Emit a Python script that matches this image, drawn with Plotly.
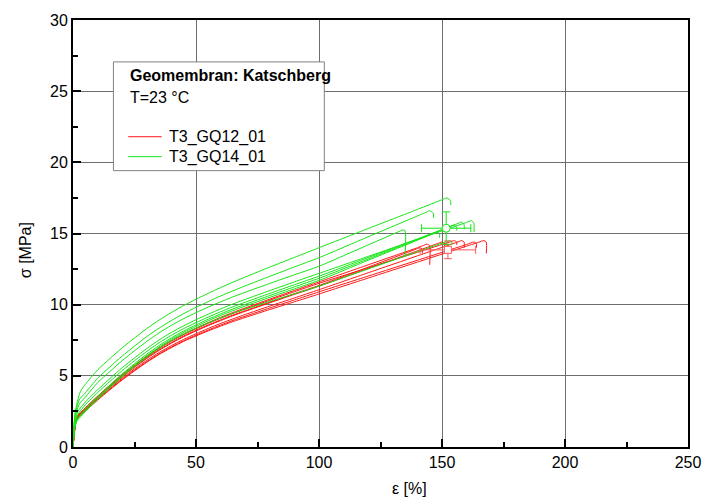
import plotly.graph_objects as go

# ---- tensile test data: strain eps [%], stress sigma [MPa] ----
# Series T3_GQ14_01 (green)
g1_eps = [0, 0.8, 3, 5, 10, 15, 20, 25, 30, 35, 40, 45, 50, 55, 60, 65, 70, 80, 90, 100, 120, 140, 150, 152, 153.5, 153.5]
g1_sig = [0, 2.4, 3.9, 4.4, 5.42, 6.21, 6.97, 7.66, 8.32, 8.92, 9.45, 9.94, 10.38, 10.8, 11.2, 11.58, 11.94, 12.64, 13.32, 14.0, 15.35, 16.69, 17.37, 17.5, 17.3, 17.0]
g2_eps = [0, 0.8, 2.5, 5, 10, 15, 20, 25, 30, 35, 40, 45, 50, 55, 60, 65, 70, 80, 90, 100, 120, 140, 143, 145, 146.5, 146.5]
g2_sig = [0, 2.2, 3.3, 3.8, 4.83, 5.63, 6.39, 7.09, 7.76, 8.35, 8.89, 9.37, 9.81, 10.22, 10.61, 10.97, 11.32, 11.99, 12.65, 13.3, 14.77, 16.23, 16.45, 16.6, 16.4, 16.1]
g3_eps = [0, 0.8, 2.5, 5, 10, 15, 20, 25, 30, 35, 40, 45, 50, 55, 60, 65, 70, 80, 90, 100, 120, 132, 134, 135, 135]
g3_sig = [0, 2.0, 3.0, 3.5, 4.52, 5.31, 6.07, 6.76, 7.42, 8.02, 8.55, 9.02, 9.44, 9.83, 10.2, 10.55, 10.87, 11.49, 12.1, 12.7, 14.2, 15.1, 15.25, 15.2, 13.4]
g4_eps = [0, 0.8, 2, 5, 10, 15, 20, 25, 30, 35, 40, 45, 50, 55, 60, 65, 70, 80, 90, 100, 120, 140, 160, 162, 163, 163]
g4_sig = [0, 1.8, 2.5, 3.16, 4.02, 4.81, 5.57, 6.26, 6.92, 7.52, 8.05, 8.52, 8.94, 9.33, 9.7, 10.05, 10.37, 10.99, 11.6, 12.2, 13.39, 14.59, 15.78, 15.9, 15.7, 15.1]
g5_eps = [0, 0.8, 2, 5, 10, 15, 20, 25, 30, 35, 40, 45, 50, 55, 60, 65, 70, 80, 90, 100, 120, 140, 156, 158, 159, 159]
g5_sig = [0, 1.7, 2.3, 2.96, 3.82, 4.61, 5.37, 6.06, 6.72, 7.32, 7.85, 8.32, 8.74, 9.13, 9.5, 9.85, 10.17, 10.79, 11.4, 12.0, 13.31, 14.62, 15.67, 15.8, 15.6, 15.3]
g6_eps = [0, 0.8, 2, 5, 10, 15, 20, 25, 30, 35, 40, 45, 50, 55, 60, 65, 70, 80, 90, 100, 120, 140, 153, 155, 156, 156]
g6_sig = [0, 1.5, 2.0, 2.68, 3.55, 4.36, 5.14, 5.85, 6.52, 7.13, 7.67, 8.15, 8.58, 8.98, 9.35, 9.7, 10.02, 10.64, 11.25, 11.85, 13.21, 14.57, 15.46, 15.6, 15.4, 15.2]
g7_eps = [0, 0.8, 1.5, 5, 10, 15, 20, 25, 30, 35, 40, 45, 50, 55, 60, 65, 70, 80, 90, 100, 120, 140, 146, 148, 149, 149]
g7_sig = [0, 1.5, 1.9, 2.58, 3.45, 4.26, 5.04, 5.75, 6.42, 7.03, 7.57, 8.05, 8.47, 8.87, 9.24, 9.58, 9.9, 10.51, 11.11, 11.7, 13.12, 14.53, 14.96, 15.1, 14.95, 14.7]
g8_eps = [0, 0.8, 1.5, 5, 10, 15, 20, 25, 30, 35, 40, 45, 50, 55, 60, 65, 70, 80, 90, 100, 120, 140, 151, 153, 154, 154]
g8_sig = [0, 1.4, 1.8, 2.48, 3.35, 4.16, 4.94, 5.65, 6.32, 6.93, 7.47, 7.94, 8.34, 8.72, 9.07, 9.39, 9.68, 10.23, 10.76, 11.3, 12.51, 13.72, 14.38, 14.5, 14.4, 14.2]

# Series T3_GQ12_01 (red)
r1_eps = [0, 0.8, 1.5, 5, 10, 15, 20, 25, 30, 35, 40, 45, 50, 55, 60, 65, 70, 80, 90, 100, 120, 140, 153, 155, 156, 156]
r1_sig = [0, 1.5, 2.1, 2.74, 3.56, 4.32, 5.05, 5.72, 6.35, 6.93, 7.44, 7.9, 8.3, 8.69, 9.05, 9.38, 9.7, 10.31, 10.91, 11.5, 12.59, 13.68, 14.39, 14.5, 14.4, 14.2]
r2_eps = [0, 0.8, 1.5, 5, 10, 15, 20, 25, 30, 35, 40, 45, 50, 55, 60, 65, 70, 80, 90, 100, 120, 140, 142, 144, 145, 145]
r2_sig = [0, 1.5, 2.1, 2.74, 3.57, 4.34, 5.08, 5.75, 6.39, 6.96, 7.48, 7.94, 8.35, 8.74, 9.11, 9.45, 9.77, 10.39, 11.0, 11.6, 12.8, 14.0, 14.13, 14.25, 14.15, 12.8]
r3_eps = [0, 0.8, 1.5, 5, 10, 15, 20, 25, 30, 35, 40, 45, 50, 55, 60, 65, 70, 80, 90, 100, 120, 140, 148, 150, 151, 151]
r3_sig = [0, 1.4, 2.0, 2.63, 3.45, 4.21, 4.93, 5.59, 6.22, 6.79, 7.29, 7.75, 8.15, 8.53, 8.88, 9.22, 9.53, 10.13, 10.72, 11.3, 12.54, 13.78, 14.28, 14.4, 14.3, 14.0]
r4_eps = [0, 0.8, 1.5, 5, 10, 15, 20, 25, 30, 35, 40, 45, 50, 55, 60, 65, 70, 80, 90, 100, 120, 140, 156, 158, 159, 159]
r4_sig = [0, 1.4, 2.0, 2.61, 3.4, 4.14, 4.84, 5.48, 6.09, 6.64, 7.12, 7.56, 7.96, 8.33, 8.68, 9.0, 9.31, 9.9, 10.47, 11.05, 12.24, 13.43, 14.38, 14.5, 14.4, 14.0]
r5_eps = [0, 0.8, 1.5, 5, 10, 15, 20, 25, 30, 35, 40, 45, 50, 55, 60, 65, 70, 80, 90, 100, 120, 139, 141, 142, 142]
r5_sig = [0, 1.45, 2.05, 2.68, 3.5, 4.26, 4.98, 5.64, 6.27, 6.84, 7.34, 7.8, 8.2, 8.58, 8.93, 9.27, 9.58, 10.18, 10.77, 11.35, 12.64, 13.87, 14.0, 13.9, 13.6]
r6_eps = [0, 0.8, 1.5, 5, 10, 15, 20, 25, 30, 35, 40, 45, 50, 55, 60, 65, 70, 80, 90, 100, 120, 140, 160, 163, 164, 164]
r6_sig = [0, 1.35, 1.95, 2.56, 3.34, 4.07, 4.76, 5.4, 6.0, 6.55, 7.03, 7.47, 7.86, 8.22, 8.57, 8.89, 9.19, 9.77, 10.33, 10.9, 12.01, 13.12, 14.23, 14.4, 14.3, 14.0]
r7_eps = [0, 0.8, 1.5, 5, 10, 15, 20, 25, 30, 35, 40, 45, 50, 55, 60, 65, 70, 80, 90, 100, 120, 140, 160, 165, 167, 168, 168]
r7_sig = [0, 1.3, 1.9, 2.51, 3.29, 4.02, 4.71, 5.35, 5.95, 6.5, 6.98, 7.42, 7.8, 8.16, 8.49, 8.81, 9.1, 9.66, 10.2, 10.75, 11.87, 12.99, 14.11, 14.39, 14.5, 14.4, 13.6]

# Mean values at break with standard deviation
mean_eps = [151.7, 152.4]           # GQ14, GQ12
mean_sig = [15.37, 13.85]
sd_eps = [10.0, 11.3]
sd_sig = [1.15, 0.62]

green_curves = [(g1_eps, g1_sig), (g2_eps, g2_sig), (g3_eps, g3_sig), (g4_eps, g4_sig),
                (g5_eps, g5_sig), (g6_eps, g6_sig), (g7_eps, g7_sig), (g8_eps, g8_sig)]
red_curves = [(r1_eps, r1_sig), (r2_eps, r2_sig), (r3_eps, r3_sig), (r4_eps, r4_sig),
              (r5_eps, r5_sig), (r6_eps, r6_sig), (r7_eps, r7_sig)]

GREEN = "rgb(20,230,20)"
RED = "rgb(255,20,20)"
RED_LIGHT = "rgb(255,90,90)"
FONT = "Arial, Liberation Sans, sans-serif"

fig = go.Figure()

for e, s in red_curves:
    fig.add_trace(go.Scatter(x=e, y=s, mode="lines", line=dict(color=RED, width=1, shape="spline", smoothing=0.6),
                             showlegend=False, hoverinfo="skip"))
for e, s in green_curves:
    fig.add_trace(go.Scatter(x=e, y=s, mode="lines", line=dict(color=GREEN, width=1, shape="spline", smoothing=0.6),
                             showlegend=False, hoverinfo="skip"))

# mean points with error bars
fig.add_trace(go.Scatter(
    x=[mean_eps[0]], y=[mean_sig[0]], mode="markers",
    marker=dict(symbol="circle", size=8, color="white", line=dict(color=GREEN, width=1)),
    error_x=dict(type="data", array=[sd_eps[0]], color=GREEN, thickness=1, width=4),
    error_y=dict(type="data", array=[sd_sig[0]], color=GREEN, thickness=1, width=4),
    showlegend=False))
fig.add_trace(go.Scatter(
    x=[mean_eps[1]], y=[mean_sig[1]], mode="markers",
    marker=dict(symbol="square", size=7, color="white", line=dict(color=RED_LIGHT, width=1)),
    error_x=dict(type="data", array=[sd_eps[1]], color=RED_LIGHT, thickness=1, width=4),
    error_y=dict(type="data", array=[sd_sig[1]], color=RED_LIGHT, thickness=1, width=4),
    showlegend=False))

# plot area in pixels
L, R, T, B = 73, 697, 19, 447
W, H = 713, 504
pw, ph = R - L, B - T


def px(xp):
    return (xp - L) / pw


def py(yp):
    return (B - yp) / ph


axis_common = dict(
    showline=True, linewidth=2, linecolor="black", mirror=True,
    ticks="inside", ticklen=8, tickwidth=2, tickcolor="black",
    showgrid=True, gridcolor="#6e6e6e", gridwidth=1, zeroline=False,
    tickfont=dict(family=FONT, size=16, color="black"),
)

fig.update_xaxes(range=[0, 250], tick0=0, dtick=50,
                 minor=dict(dtick=25, ticks="inside", ticklen=5, tickwidth=2, tickcolor="black", showgrid=False),
                 **axis_common)
fig.update_yaxes(range=[0, 30], tick0=0, dtick=5,
                 minor=dict(dtick=2.5, ticks="inside", ticklen=5, tickwidth=2, tickcolor="black", showgrid=False),
                 **axis_common)

# legend box
shapes = [
    dict(type="rect", xref="paper", yref="paper", x0=px(114), x1=px(328), y0=py(170), y1=py(61),
         line=dict(color="#808080", width=1), fillcolor="white", layer="above"),
    dict(type="line", xref="paper", yref="paper", x0=px(129), x1=px(163), y0=py(136), y1=py(136),
         line=dict(color=RED, width=1), layer="above"),
    dict(type="line", xref="paper", yref="paper", x0=px(129), x1=px(163), y0=py(156), y1=py(156),
         line=dict(color=GREEN, width=1), layer="above"),
]

annotations = [
    dict(text="<b>Geomembran: Katschberg</b>", x=px(129), y=py(75), xanchor="left", yanchor="middle"),
    dict(text="T=23 °C", x=px(129), y=py(97), xanchor="left", yanchor="middle"),
    dict(text="T3_GQ12_01", x=px(168), y=py(136), xanchor="left", yanchor="middle"),
    dict(text="T3_GQ14_01", x=px(168), y=py(156), xanchor="left", yanchor="middle"),
]
for a in annotations:
    a.update(xref="paper", yref="paper", showarrow=False, font=dict(family=FONT, size=16, color="black"))

# axis titles
annotations.append(dict(text="ε [%]", x=px(414), y=py(489), xref="paper", yref="paper",
                        xanchor="center", yanchor="middle", showarrow=False,
                        font=dict(family=FONT, size=16, color="black")))
annotations.append(dict(text="σ [MPa]", x=px(25), y=py(250), xref="paper", yref="paper",
                        xanchor="center", yanchor="middle", showarrow=False, textangle=-90,
                        font=dict(family=FONT, size=16, color="black")))

fig.update_layout(
    width=W, height=H,
    margin=dict(l=L, r=W - R, t=T, b=H - B, pad=0),
    plot_bgcolor="white", paper_bgcolor="white",
    shapes=shapes, annotations=annotations,
    showlegend=False,
)

fig.write_html("out.html")
